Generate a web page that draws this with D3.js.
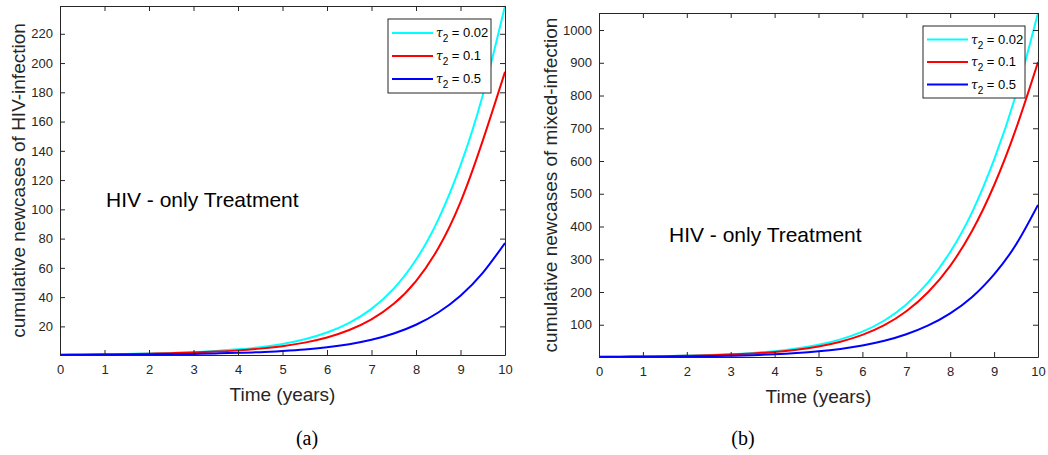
<!DOCTYPE html>
<html>
<head>
<meta charset="utf-8">
<script src="https://cdn.jsdelivr.net/npm/d3@7"></script>
<style>
  html, body { margin: 0; padding: 0; background: #fff; }
  svg { display: block; }
  text { font-family: "Liberation Sans", Arial, Helvetica, sans-serif; }
</style>
</head>
<body>
<svg id="chart" width="1048" height="455"></svg>
<script>
// ---- data ----
const years = [0,0.5,1,1.5,2,2.5,3,3.5,4,4.5,5,5.5,6,6.5,7,7.5,8,8.5,9,9.5,10];

// panel (a): cumulative new cases of HIV-infection
const hivTau002 = [0.62,0.76,0.93,1.15,1.45,1.85,2.4,3.2,4.3,5.8,8.0,11.2,15.8,22.4,32,45.8,65.5,93,130,178,239];
const hivTau01  = [0.64,0.76,0.9,1.09,1.34,1.68,2.13,2.75,3.6,4.8,6.5,8.9,12.4,17.5,24.8,35.4,51,73.4,105,147,194];
const hivTau05  = [0.44,0.5,0.57,0.67,0.8,0.97,1.2,1.5,1.9,2.4,3.2,4.2,5.7,7.8,10.8,15.1,21.1,29.5,41,56.6,77];

// panel (b): cumulative new cases of mixed-infection
const mixedTau002 = [2.5,3.0,3.6,4.5,5.8,7.6,10.1,13.9,19.3,27.2,38.7,55.3,79,113,162,230,322,444,604,803,1052];
const mixedTau01  = [2.2,2.6,3.1,3.9,5.0,6.6,8.8,12.1,16.8,23.7,33.7,48.2,69,98.6,141,200,280,387,526,699,902];
const mixedTau05  = [1.5,1.8,2.1,2.6,3.2,4.1,5.4,7.2,9.8,13.5,18.7,26.2,36.7,51,71,98,135,185,254,345,466];

const xTicks = [0,1,2,3,4,5,6,7,8,9,10];
const hivTicks = [20,40,60,80,100,120,140,160,180,200,220];
const mixedTicks = [100,200,300,400,500,600,700,800,900,1000];
const tauLabels = ["0.02","0.1","0.5"];
const seriesColors = ["#00ffff","#ff0000","#0000ff"];

const svg = d3.select("#chart");
const AX = "#262626";

function panel(cfg) {
  const g = svg.append("g");
  const all = cfg.series.flat();
  const x = d3.scaleLinear().domain([0,10]).range([cfg.left, cfg.right]);
  const y = d3.scaleLinear().domain([d3.min(all), d3.max(all)]).range([cfg.bottom, cfg.top]);

  const clipId = "clip" + cfg.id;
  g.append("clipPath").attr("id", clipId).append("rect")
    .attr("x", cfg.left).attr("y", cfg.top - 1)
    .attr("width", cfg.right - cfg.left).attr("height", cfg.bottom - cfg.top + 2);

  const line = d3.line().x((d,i) => x(years[i])).y(d => y(d)).curve(d3.curveNatural);
  cfg.series.forEach((s, k) => {
    g.append("path").datum(s)
      .attr("clip-path", `url(#${clipId})`)
      .attr("fill","none").attr("stroke", seriesColors[k]).attr("stroke-width", 2)
      .attr("d", line);
  });

  // axes: ticks inside, mirrored on all four sides
  const tl = 5;
  const bottomAx = d3.axisBottom(x).tickValues(xTicks).tickSizeInner(-tl).tickSizeOuter(0).tickPadding(10).tickFormat(d3.format("d"));
  const topAx = d3.axisTop(x).tickValues(xTicks).tickSizeInner(-tl).tickSizeOuter(0).tickFormat("");
  const leftAx = d3.axisLeft(y).tickValues(cfg.yTicks).tickSizeInner(-tl).tickSizeOuter(0).tickPadding(7).tickFormat(d3.format("d"));
  const rightAx = d3.axisRight(y).tickValues(cfg.yTicks).tickSizeInner(-tl).tickSizeOuter(0).tickFormat("");

  const styleAx = sel => {
    sel.selectAll("path.domain").attr("stroke", AX).attr("stroke-width", 1);
    sel.selectAll("line").attr("stroke", AX).attr("stroke-width", 1);
    sel.selectAll("text").attr("fill", AX).style("font-size", "13px")
      .style("font-family", '"Liberation Sans", Arial, sans-serif');
  };
  g.append("g").attr("transform", `translate(0,${cfg.bottom})`).call(bottomAx).call(styleAx);
  g.append("g").attr("transform", `translate(0,${cfg.top})`).call(topAx).call(styleAx);
  g.append("g").attr("transform", `translate(${cfg.left},0)`).call(leftAx).call(styleAx);
  g.append("g").attr("transform", `translate(${cfg.right},0)`).call(rightAx).call(styleAx);

  // axis labels
  g.append("text").attr("x", (cfg.left + cfg.right)/2).attr("y", cfg.xLabelY)
    .attr("text-anchor","middle").attr("fill", AX).style("font-size","19px").text("Time (years)");
  g.append("text")
    .attr("transform", `translate(${cfg.yLabelX},${(cfg.top + cfg.bottom)/2}) rotate(-90)`)
    .attr("text-anchor","middle").attr("dominant-baseline","central")
    .attr("fill", AX).style("font-size","19px").text(cfg.yLabel);

  // annotation
  g.append("text").attr("x", cfg.noteX).attr("y", cfg.noteY)
    .attr("fill","#000").style("font-size","21px").text("HIV - only Treatment");

  // legend
  const L = cfg.legend;
  g.append("rect").attr("x", L.x).attr("y", L.y).attr("width", L.w).attr("height", L.h)
    .attr("fill","#fff").attr("stroke", AX).attr("stroke-width", 1);
  tauLabels.forEach((lab, k) => {
    const ly = L.y + L.row0 + k * L.dy;
    g.append("line").attr("x1", L.x + 4).attr("x2", L.x + 45).attr("y1", ly).attr("y2", ly)
      .attr("stroke", seriesColors[k]).attr("stroke-width", 2);
    const t = g.append("text").attr("x", L.x + 48).attr("y", ly + 4)
      .attr("fill", "#000").style("font-size","13px");
    t.append("tspan").attr("font-style","italic").style("font-family",'"DejaVu Serif", serif').style("font-size","12px").text("τ");
    t.append("tspan").attr("dy", 5).style("font-size","10px").text("2");
    t.append("tspan").attr("dy", -5).text(" = " + lab);
  });

  // caption
  svg.append("text").attr("x", cfg.capX).attr("y", cfg.capY).attr("text-anchor","middle")
    .attr("fill","#000").style("font-family",'"Liberation Serif", "Times New Roman", serif')
    .style("font-size","20px").text(cfg.caption);
}

panel({
  id: "a", left: 60, right: 505, top: 6, bottom: 355,
  series: [hivTau002, hivTau01, hivTau05], yTicks: hivTicks,
  yLabel: "cumulative newcases of HIV-infection", yLabelX: 18, xLabelY: 401,
  noteX: 106, noteY: 207,
  legend: { x: 388, y: 19, w: 103, h: 74, row0: 14, dy: 23 },
  caption: "(a)", capX: 307, capY: 445
});

panel({
  id: "b", left: 599, right: 1038, top: 13, bottom: 357,
  series: [mixedTau002, mixedTau01, mixedTau05], yTicks: mixedTicks,
  yLabel: "cumulative newcases of mixed-infection", yLabelX: 550, xLabelY: 403,
  noteX: 669, noteY: 242,
  legend: { x: 923, y: 26, w: 102, h: 72, row0: 13.5, dy: 22.5 },
  caption: "(b)", capX: 743, capY: 445
});
</script>
</body>
</html>
